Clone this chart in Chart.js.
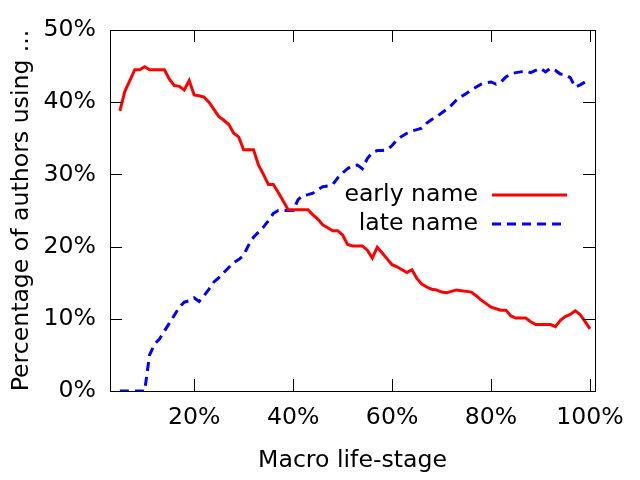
<!DOCTYPE html>
<html>
<head>
<meta charset="utf-8">
<script src="https://cdn.jsdelivr.net/npm/chart.js@4.4.1/dist/chart.umd.min.js"></script>
<style>
  html, body {margin: 0; padding: 0; background: #fff;}
  #wrap {width: 640px; height: 480px;}
</style>
</head>
<body>
<div id="wrap"><canvas id="grafico" width="640" height="480"></canvas></div>
<script>
const lifeStage = [5, 6, 7, 8, 9, 10, 11, 12, 13, 14, 15, 16, 17, 18, 19, 20, 21, 22, 23, 24,
  25, 26, 27, 28, 29, 30, 31, 32, 33, 34, 35, 36, 37, 38, 39, 40, 41, 42, 43, 44,
  45, 46, 47, 48, 49, 50, 51, 52, 53, 54, 55, 56, 57, 58, 59, 60, 61, 62, 63, 64,
  65, 66, 67, 68, 69, 70, 71, 72, 73, 74, 75, 76, 77, 78, 79, 80, 81, 82, 83, 84,
  85, 86, 87, 88, 89, 90, 91, 92, 93, 94, 95, 96, 97, 98, 99, 100];

const earlyName = [38.8, 41.5, 43.0, 44.5, 44.5, 44.9, 44.5, 44.5, 44.5, 44.5,
  43.2, 42.3, 42.2, 41.7, 43.0, 41.0, 40.9, 40.7, 40.0, 39.0,
  38.0, 37.5, 36.9, 35.7, 35.2, 33.4, 33.4, 33.4, 31.3, 30.0,
  28.6, 28.6, 27.5, 26.3, 25.1, 25.1, 25.1, 25.1, 25.1, 24.4,
  23.8, 23.0, 22.6, 22.2, 22.2, 21.6, 20.3, 20.1, 20.1, 20.1,
  19.5, 18.4, 19.9, 19.1, 18.3, 17.5, 17.2, 16.8, 16.4, 16.8,
  15.6, 14.8, 14.4, 14.1, 14.0, 13.7, 13.6, 13.8, 14.0, 13.9,
  13.8, 13.7, 13.2, 12.6, 12.1, 11.6, 11.4, 11.2, 11.2, 10.4,
  10.1, 10.1, 10.1, 9.6, 9.2, 9.2, 9.2, 9.2, 8.9, 9.8,
  10.3, 10.6, 11.1, 10.6, 9.6, 8.6];

const lateName = [0, 0, 0, 0, 0, 0, 5.0, 6.5, 7.2, 8.3,
  9.4, 10.5, 11.6, 12.3, 12.5, 12.9, 12.4, 13.2, 14.1, 15.1,
  15.7, 16.4, 17.1, 17.8, 18.2, 18.8, 20.2, 21.3, 22.0, 22.7,
  23.6, 24.6, 25.0, 25.0, 25.0, 25.0, 26.5, 27.1, 27.2, 27.4,
  27.9, 28.3, 28.4, 28.6, 29.5, 30.2, 30.8, 31.2, 31.3, 30.8,
  32.2, 33.0, 33.3, 33.3, 33.4, 34.0, 34.8, 35.3, 35.7, 36.0,
  36.2, 36.4, 37.1, 37.6, 38.0, 38.5, 39.0, 39.6, 40.3, 40.8,
  41.2, 41.7, 42.1, 42.5, 42.7, 42.8, 42.5, 42.8, 43.5, 43.9,
  44.1, 44.2, 44.3, 44.1, 44.4, 44.7, 44.2, 44.7, 44.4, 43.9,
  43.8, 43.4, 42.1, 42.4, 42.8, 43.0];

const xTicks = [20, 40, 60, 80, 100];
const yTicks = [0, 10, 20, 30, 40, 50];
const seriesNames = ['early name', 'late name'];

const fuente = {family: '"DejaVu Sans", sans-serif', size: 23.6, lineHeight: 1.2};

// marco estilo gnuplot: caja negra, marcas hacia dentro en los cuatro lados, leyenda dentro
const marco = {
  id: 'marco',
  afterDraw(chart) {
    const {ctx, chartArea: a, scales} = chart;
    ctx.save();
    ctx.strokeStyle = '#000';
    ctx.lineWidth = 1;
    ctx.strokeRect(a.left + 0.5, a.top + 0.5, a.right - a.left, a.bottom - a.top);
    ctx.beginPath();
    xTicks.forEach(v => {
      const px = Math.round(scales.x.getPixelForValue(v)) + 0.5;
      ctx.moveTo(px, a.bottom); ctx.lineTo(px, a.bottom - 12);
      ctx.moveTo(px, a.top); ctx.lineTo(px, a.top + 12);
    });
    yTicks.forEach(v => {
      const py = Math.round(scales.y.getPixelForValue(v)) + 0.5;
      ctx.moveTo(a.left, py); ctx.lineTo(a.left + 12, py);
      ctx.moveTo(a.right, py); ctx.lineTo(a.right - 12, py);
    });
    ctx.stroke();

    ctx.font = '23.6px "DejaVu Sans", sans-serif';
    ctx.fillStyle = '#000';
    ctx.textAlign = 'right';
    ctx.textBaseline = 'middle';
    chart.data.datasets.forEach((ds, i) => {
      const y = 195 + i * 29;
      ctx.fillText(ds.label, 478, y);
      ctx.beginPath();
      ctx.strokeStyle = ds.borderColor;
      ctx.lineWidth = ds.borderWidth;
      ctx.setLineDash(ds.borderDash || []);
      ctx.moveTo(492, y); ctx.lineTo(567, y);
      ctx.stroke();
    });
    ctx.restore();
  }
};

new Chart(document.getElementById('grafico'), {
  type: 'line',
  data: {
    datasets: [
      {label: seriesNames[0], data: lifeStage.map((x, i) => ({x: x, y: earlyName[i]})),
       borderColor: '#ff0000', borderWidth: 3, pointRadius: 0, tension: 0, fill: false},
      {label: seriesNames[1], data: lifeStage.map((x, i) => ({x: x, y: lateName[i]})),
       borderColor: '#0000ff', borderWidth: 3, borderDash: [9, 6], pointRadius: 0, tension: 0, fill: false}
    ]
  },
  options: {
    responsive: false,
    animation: false,
    events: [],
    layout: {padding: {top: 30, right: 45, left: 0, bottom: 0}},
    plugins: {legend: {display: false}, tooltip: {enabled: false}},
    scales: {
      x: {
        type: 'linear', min: 3, max: 101,
        afterBuildTicks: s => { s.ticks = xTicks.map(v => ({value: v})); },
        afterFit: s => { s.height = 89; },
        grid: {display: false, drawTicks: false},
        border: {display: false},
        ticks: {color: '#000', font: fuente, padding: 13, maxRotation: 0, callback: v => v + '%'},
        title: {display: true, text: 'Macro life-stage', color: '#000', font: fuente, padding: {top: 0, bottom: 5}}
      },
      y: {
        type: 'linear', min: 0, max: 50,
        afterBuildTicks: s => { s.ticks = yTicks.map(v => ({value: v})); },
        afterFit: s => { s.width = 110; },
        grid: {display: false, drawTicks: false},
        border: {display: false},
        ticks: {color: '#000', font: fuente, padding: 14, callback: v => v + '%'},
        title: {display: true, text: 'Percentage of authors using ...', color: '#000', font: fuente, padding: {top: 8, bottom: 0}}
      }
    }
  },
  plugins: [marco]
});
</script>
</body>
</html>
